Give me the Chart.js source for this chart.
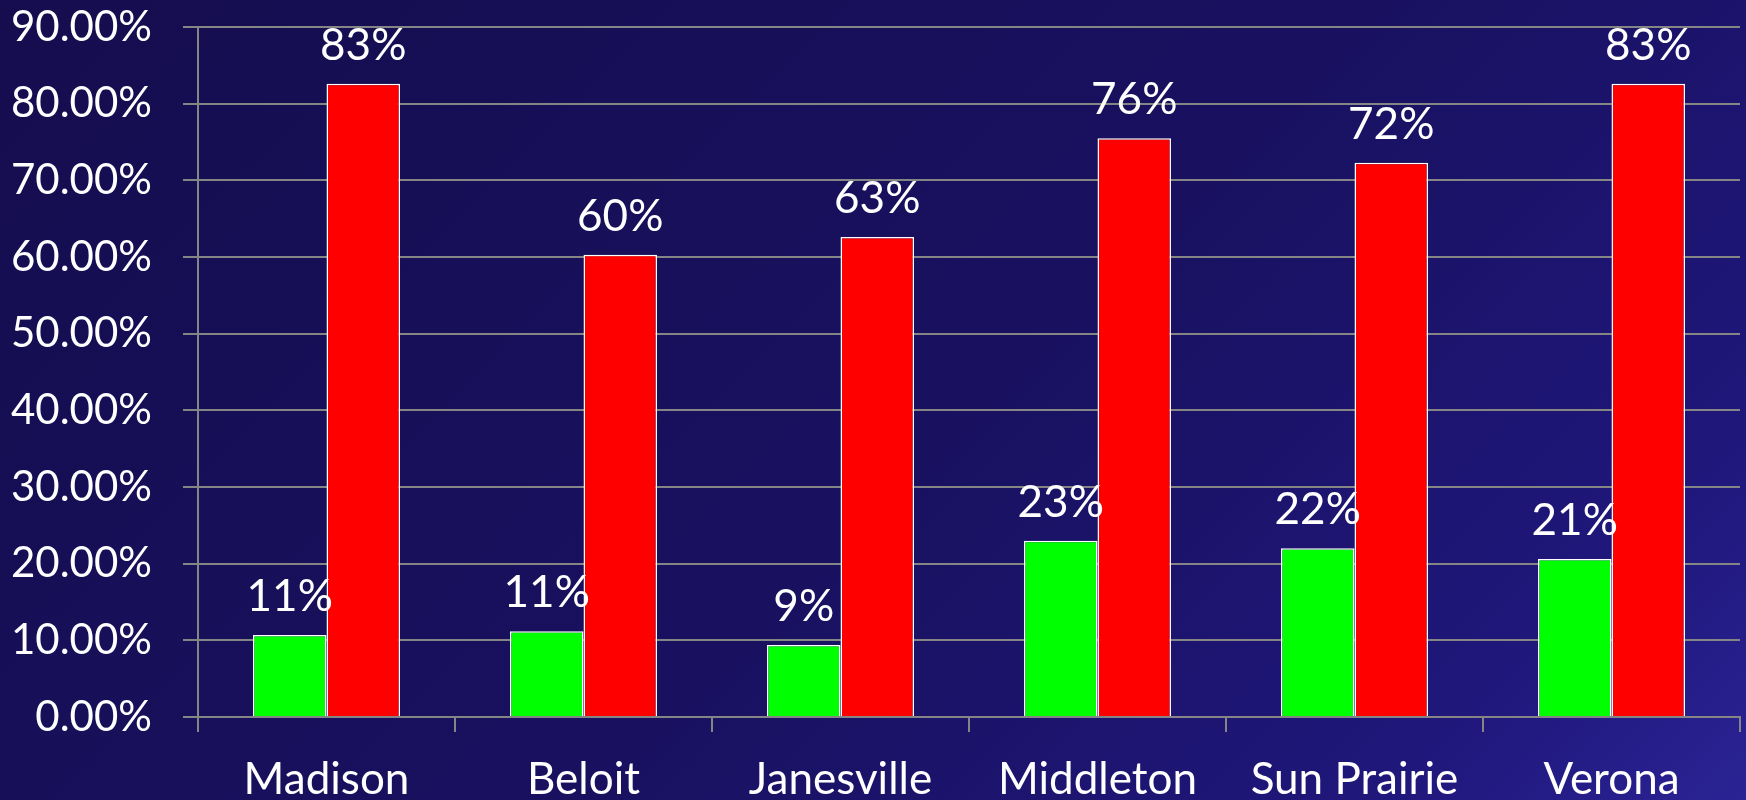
<!DOCTYPE html>
<html>
<head>
<meta charset="utf-8">
<script src="https://cdn.jsdelivr.net/npm/chart.js@4.4.1/dist/chart.umd.min.js"></script>
<style>
  html, body { margin: 0; padding: 0; width: 1746px; height: 800px; overflow: hidden; }
  body { background: linear-gradient(135deg, #150d4e 0%, #191160 55%, #1f177a 85%, #2a2394 100%); }
  #c { display: block; }
</style>
</head>
<body>
<canvas id="c" width="1746" height="800"></canvas>
<script>
const categories = ['Madison', 'Beloit', 'Janesville', 'Middleton', 'Sun Prairie', 'Verona'];
const greenValues = [10.7, 11.2, 9.4, 23.0, 22.0, 20.6];
const redValues = [82.6, 60.3, 62.6, 75.5, 72.3, 82.6];
const yTickMin = 0;
const yTickMax = 90;
const yTickStep = 10;

const FONT = 'Lato, "Open Sans", sans-serif';
const GRID = '#858585';

const barLabels = {
  id: 'barLabels',
  afterDatasetsDraw(chart) {
    const ctx = chart.ctx;
    ctx.save();
    ctx.font = '44px ' + FONT;
    ctx.fillStyle = '#ffffff';
    ctx.textAlign = 'center';
    ctx.textBaseline = 'alphabetic';
    chart.data.datasets.forEach((ds, i) => {
      const meta = chart.getDatasetMeta(i);
      meta.data.forEach((bar, j) => {
        ctx.fillText(Math.round(ds.data[j]) + '%', bar.x, bar.y - 24);
      });
    });
    ctx.restore();
  }
};

function noMargins(scale) {
  scale.paddingTop = 0;
  scale.paddingBottom = 0;
  scale.paddingLeft = 0;
  scale.paddingRight = 0;
}

new Chart(document.getElementById('c'), {
  type: 'bar',
  data: {
    labels: categories,
    datasets: [
      { data: greenValues, backgroundColor: '#00ff00', borderColor: '#ffffff', borderWidth: 1.5, borderSkipped: 'bottom' },
      { data: redValues, backgroundColor: '#ff0000', borderColor: '#ffffff', borderWidth: 1.5, borderSkipped: 'bottom' }
    ]
  },
  options: {
    responsive: false,
    animation: false,
    devicePixelRatio: 1,
    layout: { padding: { left: 0, top: 27, right: 6, bottom: 0 } },
    plugins: { legend: { display: false }, tooltip: { enabled: false } },
    datasets: { bar: { barPercentage: 1.0, categoryPercentage: 0.572 } },
    scales: {
      x: {
        offset: true,
        grid: { offset: true, drawOnChartArea: false, drawTicks: true, tickLength: 15, color: GRID, lineWidth: 2 },
        border: { display: true, color: GRID, width: 2 },
        ticks: { color: '#ffffff', font: { family: FONT, size: 44 }, padding: 21, maxRotation: 0, autoSkip: false },
        afterFit(scale) { scale.height = 83; noMargins(scale); }
      },
      y: {
        min: yTickMin,
        max: yTickMax,
        grid: { drawOnChartArea: true, drawTicks: true, tickLength: 15, color: GRID, lineWidth: 2 },
        border: { display: true, color: GRID, width: 2 },
        ticks: {
          stepSize: yTickStep,
          color: '#ffffff',
          font: { family: FONT, size: 42 },
          padding: 31,
          callback: (v) => v.toFixed(2) + '%'
        },
        afterFit(scale) { scale.width = 198; noMargins(scale); }
      }
    }
  },
  plugins: [barLabels]
});
</script>
</body>
</html>
